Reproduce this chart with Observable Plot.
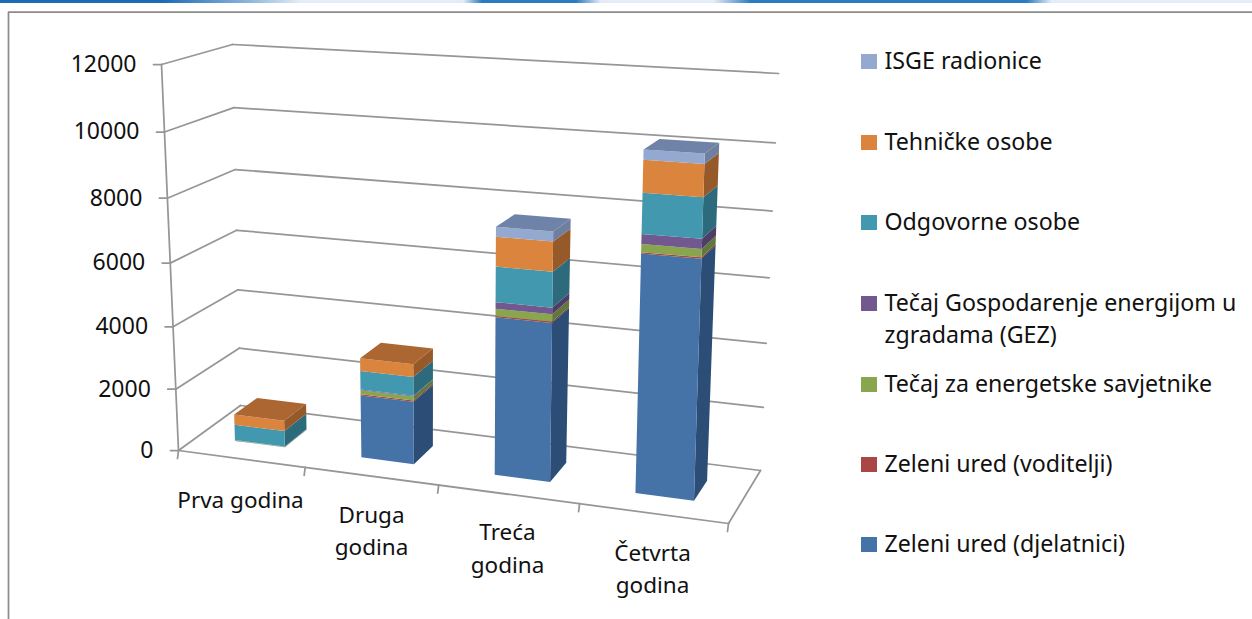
<!DOCTYPE html>
<html><head><meta charset="utf-8">
<script src="https://cdn.jsdelivr.net/npm/d3@7"></script>
<script src="https://cdn.jsdelivr.net/npm/@observablehq/plot@0.6"></script>
<style>html,body{margin:0;padding:0;background:#fff;overflow:hidden}
#band{position:absolute;left:0;top:0;width:1252px;height:3px;background:linear-gradient(90deg,#1a6cb4 0%,#1a6cb4 13%,#8fb7dc 20%,#e4ecf8 24%,#e4ecf8 37%,#2a7cc0 38.5%,#2a7cc0 46%,#e4ecf8 48%,#e4ecf8 57%,#2a7cc0 60%,#2a7cc0 82%,#e4ecf8 84%,#e4ecf8 100%)}
#chart{position:absolute;left:0;top:0}
svg{display:block}</style>
</head><body><div id="chart"></div><div id="band"></div>
<script>
const categories = [["Prva godina"],["Druga","godina"],["Treća","godina"],["Četvrta","godina"]];
const seriesNames = ["Zeleni ured (djelatnici)","Zeleni ured (voditelji)","Tečaj za energetske savjetnike","Tečaj Gospodarenje energijom u zgradama (GEZ)","Odgovorne osobe","Tehničke osobe","ISGE radionice"];
const djelatnici = [10,2000,4900,7190];
const voditelji = [5,40,40,40];
const savjetnici = [15,130,220,240];
const gez = [0,20,200,290];
const odgovorne = [510,595,1070,1180];
const tehnicke = [335,400,890,935];
const isge = [0,0,300,290];
const series = [djelatnici,voditelji,savjetnici,gez,odgovorne,tehnicke,isge];
const yTicks = [0,2000,4000,6000,8000,10000,12000];

const front = ["#4572a7","#aa4643","#89a54e","#71588f","#4198af","#db843d","#93a9cf"];
const side = ["#2c4d75","#7a3230","#62783a","#4e3d66","#2d6b7c","#96592a","#6e7fa0"];
const top_ = ["#34598a","#8a3836","#6f8a3f","#5c4875","#33808f","#ab6632","#6f83a8"];

// perspective box of the chart (u along categories, v value, w depth)
const C = {fbl:[178,450],ftl:[161,64],bbl:[240,405],btl:[232,44],fbr:[728,523],ftr:[742,97],bbr:[760,470],btr:[778,73]};
const warp = u => u/(1+0.114*(1-u));
const warpV = v => v/(1+0.06*(1-v));
function P(u0,val,w){
  const u=warp(u0), v=warpV(val/12000);
  const mix=(a,b,t)=>[a[0]+(b[0]-a[0])*t,a[1]+(b[1]-a[1])*t];
  const fl=mix(C.fbl,C.ftl,v), fr=mix(C.fbr,C.ftr,v), bl=mix(C.bbl,C.btl,v), br=mix(C.bbr,C.btr,v);
  return mix(mix(fl,fr,u),mix(bl,br,u),w);
}
const polys=[], lines=[];
let id=0;
function poly(pts,c){id++;pts.forEach((p,k)=>polys.push({x:p[0],y:p[1],id,c,k}));}
function seg(a,b){id++;lines.push({x:a[0],y:a[1],id});lines.push({x:b[0],y:b[1],id});}

const w0=.32,w1=.7;
categories.forEach((_,i)=>{
  const u0=(i+.3)/4,u1=(i+.7)/4;
  let base=0;
  const total=d3.sum(series,s=>s[i]);
  let lastIdx=0;
  series.forEach((s,k)=>{ if(s[i]>0) lastIdx=k; });
  series.forEach((s,k)=>{
    const t=base+s[i];
    if(s[i]>0){
      poly([P(u1,base,w0),P(u1,base,w1),P(u1,t,w1),P(u1,t,w0)],side[k]);
      poly([P(u0,base,w0),P(u1,base,w0),P(u1,t,w0),P(u0,t,w0)],front[k]);
    }
    base=t;
  });
  poly([P(u0,total,w0),P(u1,total,w0),P(u1,total,w1),P(u0,total,w1)],top_[lastIdx]);
});
// walls and axes
yTicks.forEach(v=>{
  seg(P(0,v,0),P(0,v,1));
  seg(P(0,v,1),P(1,v,1));
  const p=P(0,v,0); seg([p[0]-8,p[1]],p);
});
seg(P(0,0,0),P(0,12000,0));
seg(P(0,0,0),P(1,0,0));
seg(P(1,0,0),P(1,0,1));
[0,.25,.5,.75,1].forEach(u=>{const p=P(u,0,0);seg(p,[p[0]-1,p[1]+8]);});

const yLab=yTicks.map(v=>{const p=P(0,v,0);return {t:String(v),x:p[0]-25,y:p[1]}});
const catY=[[500],[515,547],[532,565],[553,585]];
const catX=[240,371,507,652];
const catLab=categories.flatMap((ls,i)=>ls.map((t,j)=>({t,x:catX[i],y:catY[i][j]})));
const legY=[544,464,384,[303,335],222,142,61];
const legLab=seriesNames.flatMap((n,i)=>{
  const ly=legY[i];
  if(Array.isArray(ly)) return [{t:"Tečaj Gospodarenje energijom u",x:884,y:ly[0]},{t:"zgradama (GEZ)",x:884,y:ly[1]}];
  return [{t:n,x:884,y:ly}];
});
const legSq=seriesNames.map((n,i)=>{const ly=legY[i];const y=Array.isArray(ly)?ly[0]:ly;return {x1:861,x2:877,y1:y-7,y2:y+8,c:front[i]}});
const frame=[{x:8,y:619},{x:8,y:11.5},{x:1252,y:11.5}];

const font="'Noto Sans', sans-serif";
const plot=Plot.plot({
  width:1252,height:619,margin:0,
  style:{background:"#fff"},
  x:{domain:[0,1252],range:[0,1252],axis:null},
  y:{domain:[0,619],range:[0,619],axis:null},
  color:{type:"identity"},
  marks:[
    Plot.line(frame,{x:"x",y:"y",stroke:"#8c8c8c",strokeWidth:1.75}),
    Plot.line(lines,{x:"x",y:"y",z:"id",stroke:"#969696",strokeWidth:1.75}),
    Plot.line(polys,{x:"x",y:"y",z:"id",fill:"c",stroke:"none",curve:"linear"}),
    Plot.rect(legSq,{x1:"x1",x2:"x2",y1:"y1",y2:"y2",fill:"c",inset:0}),
    Plot.text(yLab,{x:"x",y:"y",text:"t",textAnchor:"end",fontSize:23,fontFamily:font,fill:"#111"}),
    Plot.text(catLab,{x:"x",y:"y",text:"t",textAnchor:"middle",fontSize:22.5,fontFamily:font,fill:"#111"}),
    Plot.text(legLab,{x:"x",y:"y",text:"t",textAnchor:"start",fontSize:23.2,fontFamily:font,fill:"#111"})
  ]
});
document.getElementById("chart").appendChild(plot);
</script></body></html>
